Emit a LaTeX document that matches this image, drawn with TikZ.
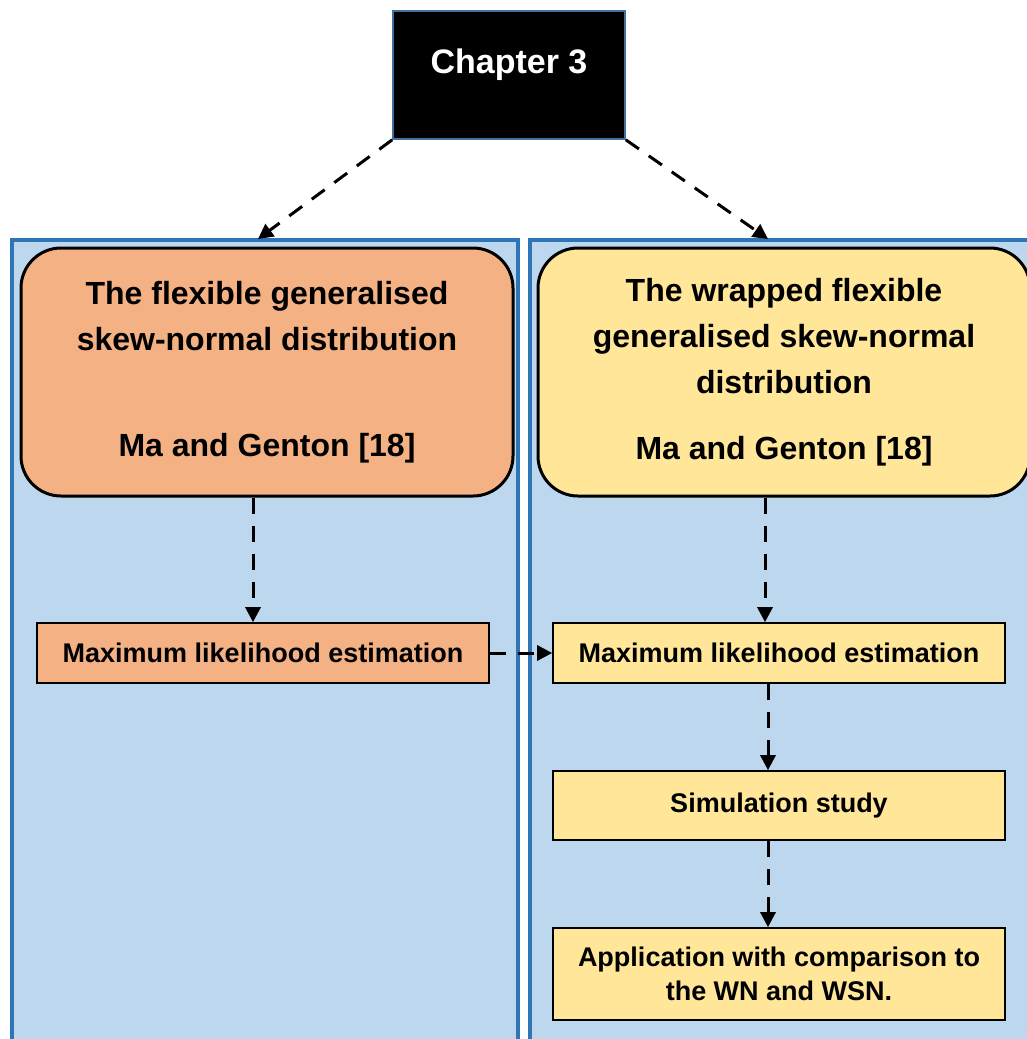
\documentclass[tikz,border=0pt]{standalone}
\usepackage{fontspec}
\setmainfont{Liberation Sans}
\usetikzlibrary{arrows.meta,positioning}

\definecolor{panelfill}{HTML}{BDD7EE}
\definecolor{panelline}{HTML}{2E75B6}
\definecolor{orangebox}{HTML}{F4B183}
\definecolor{yellowbox}{HTML}{FFE699}
\definecolor{chapline}{HTML}{41719C}

\begin{document}
\begin{tikzpicture}[x=0.5pt,y=-0.5pt,>={Triangle[length=7.5pt,width=7.5pt]},
    dash arrow/.style={->,dash pattern=on 8pt off 6pt,line width=1.5pt},
    panel/.style={draw=panelline,fill=panelfill,line width=2pt},
    big box/.style={draw,line width=1.5pt,rounded corners=20pt,minimum width=246pt,minimum height=124pt,align=center,font=\bfseries\fontsize{16}{23}\selectfont},
    small box/.style={draw,line width=0.8pt,minimum width=226pt,align=center,font=\bfseries\fontsize{13.5}{17}\selectfont}]

    \useasboundingbox (0,0) rectangle (1027,1039);
    \clip (0,0) rectangle (1027,1039);

    % the two panels
    \draw[panel] (12,240) rectangle (518,1060);
    \draw[panel] (530,240) rectangle (1040,1060);
    \coordinate (ltop) at (258,239);
    \coordinate (rtop) at (768,239);

    \node[fill=black,draw=chapline,line width=0.8pt,text=white,minimum width=116pt,minimum height=64pt,
          font=\bfseries\fontsize{17}{20}\selectfont,text height=12.2pt,text depth=14pt] (chap) at (509,75) {Chapter 3};

    \node[big box,fill=orangebox] (lround) at (267,372)
        {The flexible generalised\\skew-normal distribution\\[30pt]Ma and Genton [18]};
    \node[big box,fill=yellowbox] (rround) at (784,372)
        {The wrapped flexible\\generalised skew-normal\\distribution\\[10pt]Ma and Genton [18]};

    \node[small box,fill=orangebox,minimum height=30pt] (lmle) at (263,653) {Maximum likelihood estimation};
    \node[small box,fill=yellowbox,minimum height=30pt] (rmle) at (779,653) {Maximum likelihood estimation};
    \node[small box,fill=yellowbox,minimum height=34.5pt] (sim) at (779,805.5) {Simulation study};
    \node[small box,fill=yellowbox,minimum height=46pt] (app) at (779,974) {Application with comparison to\\the WN and WSN.};

    \draw[dash arrow] (chap.south west) -- (ltop);
    \draw[dash arrow] (chap.south east) -- (rtop);
    \draw[dash arrow] ([xshift=-7pt]lround.south) -- ([xshift=-5pt]lmle.north);
    \draw[dash arrow] ([xshift=-9.5pt]rround.south) -- ([xshift=-7pt]rmle.north);
    \draw[dash arrow] (lmle.east) -- (rmle.west);

    \foreach \from/\to in {rmle/sim,sim/app}{
        \draw[dash arrow] ([xshift=-5.5pt]\from.south) -- ([xshift=-5.5pt]\to.north);
    }

\end{tikzpicture}
\end{document}
